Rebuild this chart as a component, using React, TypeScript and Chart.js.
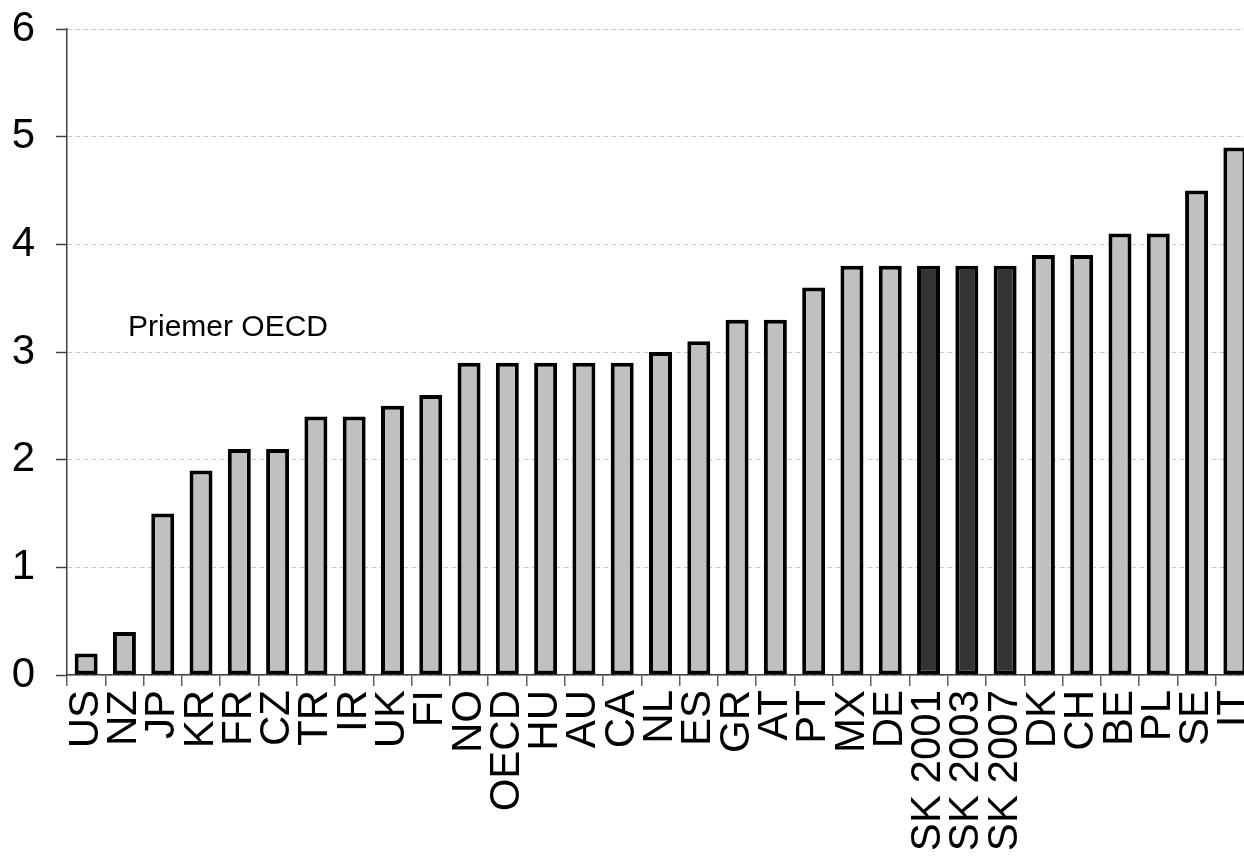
import React, { useEffect, useRef } from 'react';
import { Chart, registerables } from 'chart.js';

Chart.register(...registerables);

const categories = ['US', 'NZ', 'JP', 'KR', 'FR', 'CZ', 'TR', 'IR', 'UK', 'FI', 'NO', 'OECD', 'HU', 'AU', 'CA', 'NL', 'ES', 'GR', 'AT', 'PT', 'MX', 'DE', 'SK 2001', 'SK 2003', 'SK 2007', 'DK', 'CH', 'BE', 'PL', 'SE', 'IT'];
const values = [0.2, 0.4, 1.5, 1.9, 2.1, 2.1, 2.4, 2.4, 2.5, 2.6, 2.9, 2.9, 2.9, 2.9, 2.9, 3.0, 3.1, 3.3, 3.3, 3.6, 3.8, 3.8, 3.8, 3.8, 3.8, 3.9, 3.9, 4.1, 4.1, 4.5, 4.9];
const highlighted = ['SK 2001', 'SK 2003', 'SK 2007'];
const yTickValues = [0, 1, 2, 3, 4, 5, 6];
const annotationText = 'Priemer OECD';
const annotationValue = 3.23;

const FONT = "'Liberation Sans', Arial, sans-serif";

const annotationPlugin = {
  id: 'oecdNote',
  afterDatasetsDraw(chart: any) {
    const { ctx, chartArea, scales } = chart;
    const y = scales.y.getPixelForValue(annotationValue);
    ctx.save();
    ctx.font = `30px ${FONT}`;
    ctx.fillStyle = '#000';
    ctx.textAlign = 'left';
    ctx.textBaseline = 'middle';
    ctx.fillText(annotationText, chartArea.left + 61, y);
    ctx.restore();
  },
};

export default function App() {
  const ref = useRef<HTMLCanvasElement | null>(null);

  useEffect(() => {
    if (!ref.current) return;
    const chart = new Chart(ref.current, {
      type: 'bar',
      data: {
        labels: categories,
        datasets: [
          {
            data: values,
            backgroundColor: categories.map((c) => (highlighted.includes(c) ? '#333333' : '#c0c0c0')),
            borderColor: '#000000',
            borderWidth: 4,
            borderSkipped: false,
            barPercentage: 0.6,
            categoryPercentage: 1,
          },
        ],
      },
      options: {
        responsive: false,
        animation: false,
        layout: { padding: { top: 29, right: 0, bottom: 0, left: 0 } },
        plugins: {
          legend: { display: false },
          tooltip: { enabled: false },
          title: { display: false },
        },
        scales: {
          x: {
            type: 'category',
            offset: true,
            grid: {
              display: true,
              drawOnChartArea: false,
              offset: true,
              tickLength: 11,
              tickColor: '#606060',
              lineWidth: 1.5,
            },
            border: { color: '#404040', width: 1.5 },
            ticks: {
              font: { family: FONT, size: 42 },
              color: '#000',
              minRotation: 90,
              maxRotation: 90,
              autoSkip: false,
              padding: 4,
            },
            afterFit: (scale: any) => {
              scale.height = 191;
              scale.paddingLeft = 0;
              scale.paddingRight = 0;
              scale.paddingTop = 0;
              scale.paddingBottom = 0;
            },
          },
          y: {
            min: 0,
            max: 6,
            afterBuildTicks: (scale: any) => {
              scale.ticks = yTickValues.map((v) => ({ value: v }));
            },
            grid: {
              color: '#c8c8c8',
              lineWidth: 1,
              tickColor: '#404040',
              tickLength: 11,
              tickWidth: 1.5,
            },
            border: { color: '#404040', width: 1.5, dash: [5, 3] },
            ticks: {
              font: { family: FONT, size: 42 },
              color: '#000',
              padding: 21,
            },
            afterFit: (scale: any) => {
              scale.width = 67;
              scale.paddingTop = 0;
              scale.paddingBottom = 0;
              scale.paddingLeft = 0;
              scale.paddingRight = 0;
            },
          },
        },
      },
      plugins: [annotationPlugin],
    });
    return () => chart.destroy();
  }, []);

  return (
    <div style={{ position: 'fixed', left: 0, top: 0, width: 1254, height: 866, background: '#fff' }}>
      <canvas ref={ref} width={1254} height={866} style={{ display: 'block' }} />
    </div>
  );
}
